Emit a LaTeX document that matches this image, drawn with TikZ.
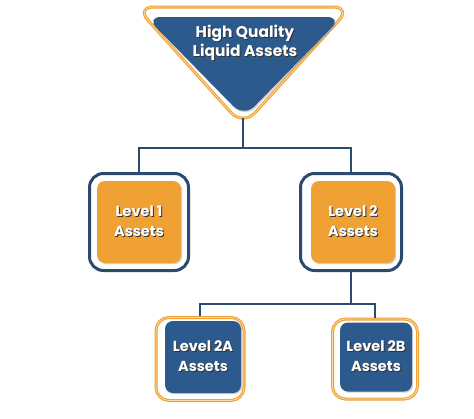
\documentclass[tikz,border=0pt]{standalone}
\usepackage{fontspec}
\setmainfont{Poppins}
\usetikzlibrary{shadows}

\definecolor{hqblue}{HTML}{2C5A8C}
\definecolor{hqorange}{HTML}{F0A133}
\definecolor{hqline}{HTML}{2B4A6E}
\definecolor{hqpale}{HTML}{FAD9A6}

% white text with a dark offset copy behind it
\newcommand\shtext[1]{\makebox[0pt][l]{\hspace{1pt}\raisebox{-1pt}{\color{black!80}#1}}#1}

\begin{document}
\begin{tikzpicture}[
        x=1pt, y=-1pt,
        label text/.style = {
            text=white,
            align=center,
            font=\bfseries\fontsize{14.5}{20}\selectfont},
        blue frame/.style = {
            draw=hqline,
            line width=3pt,
            fill=white,
            rounded corners=14pt,
            minimum width=99pt,
            minimum height=97pt},
        orange frame/.style = {
            draw=hqorange,
            line width=3pt,
            fill=white,
            rounded corners=13pt,
            minimum width=85pt,
            minimum height=80pt,
            postaction={draw=hqpale, line width=0.8pt}},
        orange box/.style = {
            label text,
            fill=hqorange,
            rounded corners=8pt,
            minimum width=84pt,
            minimum height=82pt,
            drop shadow={shadow xshift=1.2pt, shadow yshift=-1.2pt, opacity=0.35}},
        blue box/.style = {
            label text,
            fill=hqblue,
            rounded corners=8pt,
            minimum width=72pt,
            minimum height=69pt,
            drop shadow={shadow xshift=1.2pt, shadow yshift=-1.2pt, opacity=0.35}},
        connector/.style = {draw=hqline, line width=1.8pt}
    ]
    \useasboundingbox (0,0) rectangle (474,418);

    % top triangle
    \draw[draw=hqorange, line width=3pt, fill=white, rounded corners=18pt,
        postaction={draw=hqpale, line width=0.8pt}]
        (136,7) -- (351,7) -- (243,126) -- cycle;
    \fill[hqblue, rounded corners=15pt,
        drop shadow={shadow xshift=1pt, shadow yshift=-1.5pt, opacity=0.35}]
        (146,17) -- (342,17) -- (244,117) -- cycle;
    \node[label text, font=\bfseries\fontsize{15.5}{19}\selectfont] (hqla) at (245,43)
        {\shtext{High Quality}\\\shtext{Liquid Assets}};
    \coordinate (hqtip) at (243,118);

    % level 1 and level 2
    \node[blue frame] (l1frame) at (139,222) {};
    \node[orange box] (l1) at (139,222) {\shtext{Level 1}\\\shtext{Assets}};
    \node[blue frame, minimum width=101pt] (l2frame) at (351,222) {};
    \node[orange box] (l2) at (353,222) {\shtext{Level 2}\\\shtext{Assets}};

    % level 2A and level 2B
    \node[orange frame, minimum width=88pt, minimum height=83pt] (l2aframe) at (200,359) {};
    \node[blue box, minimum width=76pt, minimum height=72pt] (l2a) at (203,357) {\shtext{Level 2A}\\\shtext{Assets}};
    \node[orange frame] (l2bframe) at (375,359) {};
    \node[blue box] (l2b) at (376,357) {\shtext{Level 2B}\\\shtext{Assets}};

    % connectors
    \coordinate (bus1) at (243,148);
    \coordinate (bus2) at (351,304);
    \draw[connector] (hqtip) -- (bus1);
    \draw[connector] (l1frame.north) |- (bus1) -| (l2frame.north);
    \draw[connector] (l2frame.south) -- (bus2);
    \draw[connector] (l2aframe.north) |- (bus2) -| (l2bframe.north);
\end{tikzpicture}
\end{document}
